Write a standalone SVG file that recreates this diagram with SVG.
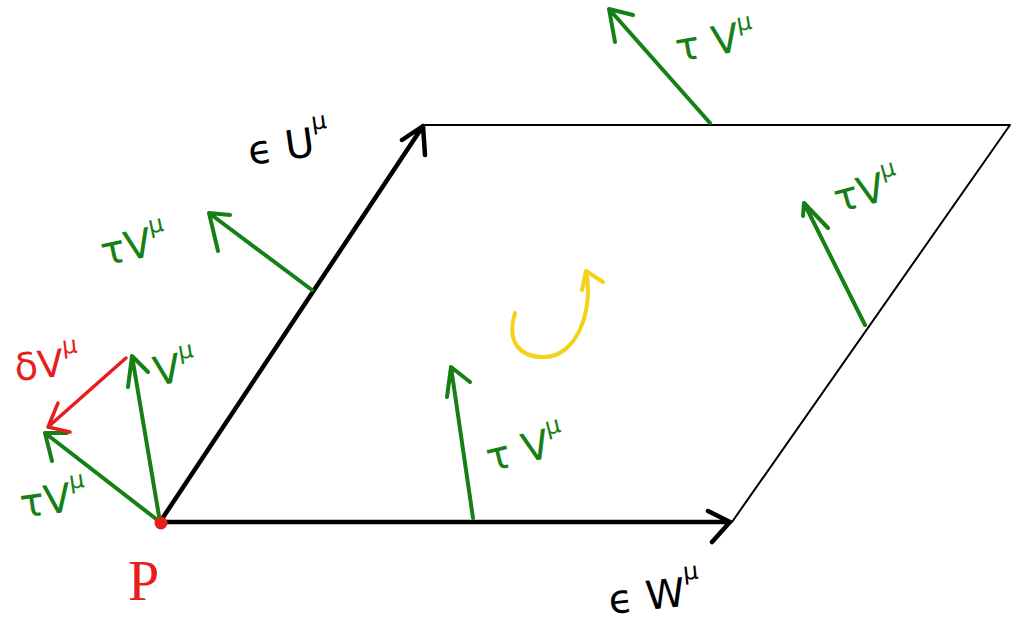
<svg xmlns="http://www.w3.org/2000/svg" width="1012" height="622" viewBox="0 0 1012 622">
<style>
.k{stroke:#000;fill:none;stroke-linecap:round;stroke-linejoin:round}
.g{stroke:#168016;stroke-width:4;fill:none;stroke-linecap:round;stroke-linejoin:round}
.r{stroke:#e81e1e;stroke-width:3.5;fill:none;stroke-linecap:round;stroke-linejoin:round}
.y{stroke:#f5d21a;stroke-width:4;fill:none;stroke-linecap:round;stroke-linejoin:round}
.tg{fill:#168016;font-family:"DejaVu Sans",sans-serif;font-size:40px}
.tk{fill:#000;font-family:"DejaVu Sans",sans-serif;font-size:40px}
.tr{fill:#e81e1e;font-family:"DejaVu Sans",sans-serif;font-size:38px}
.sup{font-size:24px}
</style>
<rect width="1012" height="622" fill="#fff"/>
<g id="connectors">
  <path class="k" stroke-width="2" d="M425 125 L1010 125 L732 522"/>
  <path class="k" stroke-width="4.5" d="M160 522 L730 522 M708 511 L730 522 L712 542"/>
  <path class="k" stroke-width="4.5" d="M160 522 L423 126 M402 140 L423 126 L425 155"/>
  <path class="g" d="M710 123 L609 9 M633 15 L609 9 L615 42"/>
  <path class="g" d="M312 290 L209 213 M230 215 L209 213 L218 251"/>
  <path class="g" d="M865 325 L804 203 M828 228 L804 203 L803 216"/>
  <path class="g" d="M473 518 L451 367 M470 382 L451 367 L447 397"/>
  <path class="g" d="M160 522 L132 356 M148 372 L132 356 L128 387"/>
  <path class="g" d="M160 522 L45 433 M67 433 L45 433 L52 461"/>
  <path class="r" d="M126 358 L48 427 M58 403 L48 427 L70 432"/>
  <path class="y" d="M515 313 C506 342 520 358 545 357 C577 356 594 310 586 271 M603 282 L586 271 L582 290"/>
</g>
<g id="P">
  <circle cx="161" cy="523" r="6.5" fill="#e81e1e"/>
  <text x="128" y="600" fill="#e81e1e" font-family="Liberation Serif,serif" font-size="56">P</text>
</g>
<g id="labels">
  <text class="tk" x="250" y="165" transform="rotate(-8 250 165)">ϵ U<tspan class="sup" dy="-26">μ</tspan></text>
  <text class="tk" x="610" y="614" transform="rotate(-6 610 614)">ϵ W<tspan class="sup" dy="-26">μ</tspan></text>
  <text class="tg" x="678" y="62" transform="rotate(-10 678 62)">τ V<tspan class="sup" dy="-20">μ</tspan></text>
  <text class="tg" x="104" y="266" transform="rotate(-12 104 266)">τV<tspan class="sup" dy="-22">μ</tspan></text>
  <text class="tg" x="838" y="213" transform="rotate(-15 838 213)">τV<tspan class="sup" dy="-22">μ</tspan></text>
  <text class="tg" x="490" y="472" transform="rotate(-14 490 472)">τ V<tspan class="sup" dy="-22">μ</tspan></text>
  <text class="tg" x="22" y="518" transform="rotate(-8 22 518)">τV<tspan class="sup" dy="-22">μ</tspan></text>
  <text class="tg" x="156" y="386" transform="rotate(-10 156 386)">V<tspan class="sup" dy="-22">μ</tspan></text>
  <text class="tr" x="16" y="381" transform="rotate(-6 16 381)">δV<tspan class="sup" dy="-22">μ</tspan></text>
</g>
</svg>
